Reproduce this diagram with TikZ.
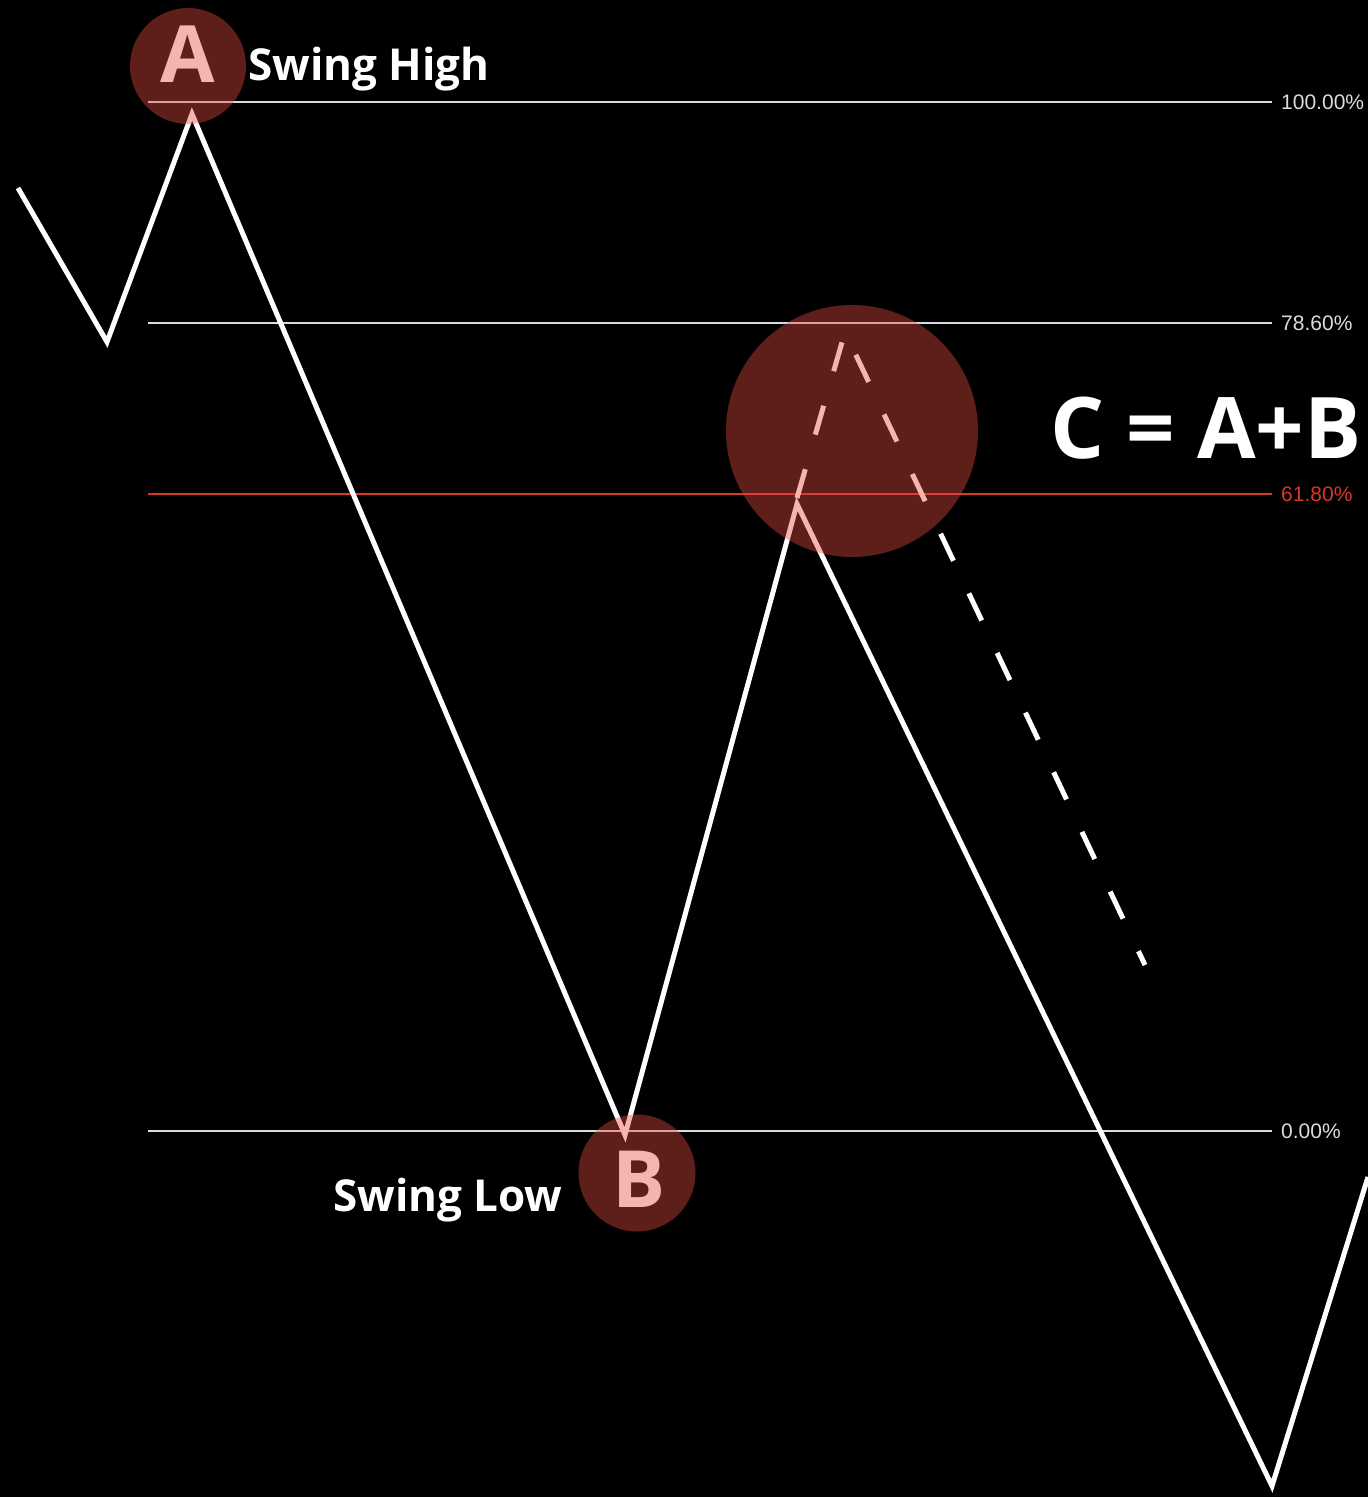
\documentclass[tikz,border=0pt]{standalone}
\usepackage{fontspec}
\setmainfont{Open Sans}
\newfontfamily\levelfont{Liberation Sans}
\usetikzlibrary{positioning}
\definecolor{levelgray}{HTML}{DCDCDC}
\definecolor{fibred}{HTML}{D9362B}
\definecolor{markred}{RGB}{229,75,63}
\tikzset{x=1pt,y=-1pt,
  price/.style={draw=white,line width=5pt},
  projected/.style={draw=white,line width=5pt,dash pattern=on 30pt off 36pt},
  level/.style={draw=levelgray,line width=2pt},
  levellabel/.style={anchor=west,inner sep=0pt,text=levelgray,font=\levelfont\fontsize{21}{21}\selectfont},
  marker/.style={circle,fill=markred,fill opacity=.41,inner sep=0pt,minimum size=#1},
  markletter/.style={text=white,inner sep=0pt,font=\bfseries\fontsize{79}{79}\selectfont},
  swinglabel/.style={anchor=base west,inner sep=0pt,text=white,font=\bfseries\fontsize{44}{44}\selectfont}}

\begin{document}
\begin{tikzpicture}
\fill[black] (0,0) rectangle (1368,1497);
\useasboundingbox (0,0) rectangle (1368,1497);
% retracement levels
\foreach \y/\lab/\col in {102/100.00\%/levelgray,323/78.60\%/levelgray,494/61.80\%/fibred,1131/0.00\%/levelgray} {
 \draw[level,draw=\col] (148,\y)--(1272,\y);
 \node[levellabel,text=\col] at (1281,\y) {\lab};}
% price swings
\coordinate (start) at (18,188);
\coordinate (dip) at (107,342);
\coordinate (high) at (192,114);
\coordinate (low) at (625,1135);
\coordinate (retrace) at (797,504);
\coordinate (trough) at (1272,1486);
\coordinate (exit) at (1368,1177);
\coordinate (ghostpeak) at (845,332);
\coordinate (ghostend) at (1145,965);
\draw[projected] (797,498)--(ghostpeak)--(ghostend);
\draw[price] (start)--(dip)--(high)--(low)--(retrace)--(trough)--(exit);
% swing points
\node[markletter] (letterA) at (188,54.5) {A};
\node[markletter] (letterB) at (639,1179) {B};
\node[marker=116pt] (markA) at (188,66) {};
\node[marker=117pt] (markB) at (637,1173) {};
\node[marker=252pt] (markC) at (852,431) {};
\node[swinglabel] (highlab) at (248,80) {Swing High};
\node[swinglabel] (lowlab) at (333,1211) {Swing Low};
\node[swinglabel,font=\bfseries\fontsize{85}{85}\selectfont] (rule) at (1050,458) {C = A+B};
\end{tikzpicture}
\end{document}
